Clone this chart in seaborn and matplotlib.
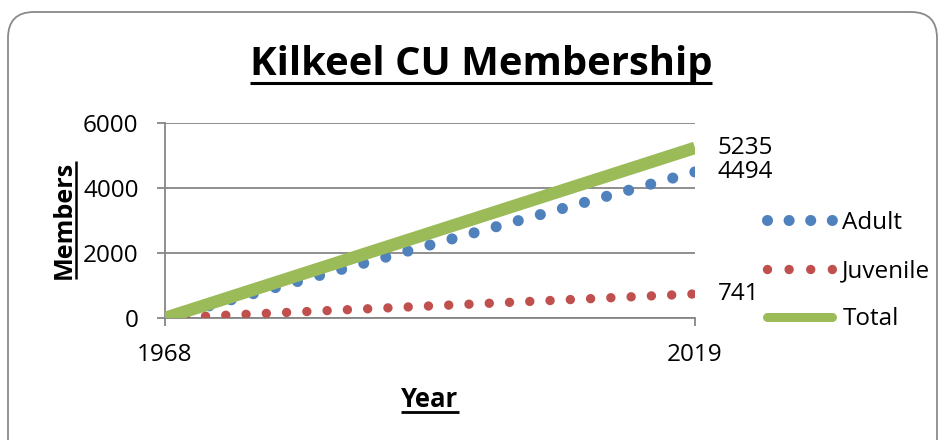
import matplotlib
matplotlib.use("Agg")
import matplotlib.pyplot as plt
import seaborn as sns
import pandas as pd
from matplotlib.patches import FancyBboxPatch
from matplotlib.lines import Line2D

# ---- data ----
years = [1968, 2019]
adult = [0, 4494]
juvenile = [0, 741]
total = [0, 5235]
series_names = ["Adult", "Juvenile", "Total"]
end_values = [5235, 4494, 741]
title_text = "Kilkeel CU Membership"
x_label = "Year"
y_label = "Members"
x_ticks = [1968, 2019]
y_ticks = [0, 2000, 4000, 6000]

# ---- style ----
sns.set_theme(style="white")
plt.rcParams["font.family"] = ["Open Sans", "DejaVu Sans"]

W, H, DPI = 941, 440, 100
fig = plt.figure(figsize=(W / DPI, H / DPI), dpi=DPI)
fig.patch.set_facecolor("white")

# rounded outer border (in inches so corners are circular)
border = FancyBboxPatch((8 / DPI, -40 / DPI), (929 - 8) / DPI + 0.08, (428 + 40) / DPI,
                        boxstyle="round,pad=0,rounding_size=0.26",
                        transform=fig.dpi_scale_trans, facecolor="none",
                        edgecolor="#8a8a8a", linewidth=1.3, zorder=-1)
fig.patches.append(border)

ax = fig.add_axes([165 / W, 1 - 318 / H, (695 - 165) / W, (318 - 123) / H])
ax.set_facecolor("none")

df = pd.DataFrame({"Year": years, "Adult": adult, "Juvenile": juvenile, "Total": total})

blue, red, green = "#4F81BD", "#C0504D", "#9BBB59"
sns.lineplot(data=df, x="Year", y="Adult", ax=ax, color=blue, linewidth=8.0,
             linestyle=(0, (0.001, 2.06)), dash_capstyle="round", label=series_names[0], zorder=3)
sns.lineplot(data=df, x="Year", y="Juvenile", ax=ax, color=red, linewidth=6.8,
             linestyle=(0, (0.001, 2.147)), dash_capstyle="round", label=series_names[1], zorder=3)
sns.lineplot(data=df, x="Year", y="Total", ax=ax, color=green, linewidth=9.0,
             solid_capstyle="butt", label=series_names[2], zorder=4)

ax.set_xlim(years[0], years[-1])
ax.set_ylim(y_ticks[0], y_ticks[-1])
ax.set_xticks(x_ticks)
ax.set_yticks(y_ticks)
ax.set_xticklabels([str(t) for t in x_ticks])
ax.set_yticklabels([str(t) for t in y_ticks])
ax.set_xlabel("")
ax.set_ylabel("")

grey = "#868686"
ax.set_axisbelow(True)
ax.yaxis.grid(True, color=grey, linewidth=1.3)
ax.xaxis.grid(False)
for s in ["top", "right"]:
    ax.spines[s].set_visible(False)
for s in ["left", "bottom"]:
    ax.spines[s].set_color(grey)
    ax.spines[s].set_linewidth(1.3)
ax.tick_params(axis="y", direction="out", length=6, width=1.3, color=grey,
               labelsize=17.5, labelcolor="black", pad=13, left=True)
ax.tick_params(axis="x", direction="out", length=6, width=1.3, color=grey,
               labelsize=17.5, labelcolor="black", pad=12, bottom=True)

# end-of-line value labels
for v in end_values:
    ax.annotate(str(v), xy=(years[-1], v), xytext=(16.5, 0), textcoords="offset points",
                ha="left", va="center", fontsize=17.5, color="black", annotation_clip=False)

leg = ax.legend(loc="upper left", bbox_to_anchor=(767 / W, 1 - 211 / H),
                bbox_transform=fig.transFigure, frameon=False, fontsize=17.5,
                handlelength=2.68, handletextpad=0.42, labelspacing=0.99,
                borderpad=0, borderaxespad=0)
for t in leg.get_texts():
    t.set_color("black")
hl = leg.get_lines()
# legend keys: evenly spaced dots and a thinner rounded bar
hl[0].set_linestyle((0, (0.001, 21.6 * 72 / DPI / 8.0)))
hl[1].set_linestyle((0, (0.001, 21.6 * 72 / DPI / 6.8)))
hl[2].set_linewidth(6.5)
hl[2].set_solid_capstyle("round")

# titles / labels
t_title = fig.text(481 / W, 1 - 75 / H, title_text, ha="center", va="baseline",
                   fontsize=28, fontweight="bold", color="black")
t_x = fig.text(430 / W, 1 - 407 / H, x_label, ha="center", va="baseline",
               fontsize=17, fontweight="bold", color="black")
t_y = fig.text(64 / W, 1 - 220 / H, y_label, ha="center", va="center", rotation=90,
               fontsize=17, fontweight="bold", color="black")

fig.canvas.draw()
r = fig.canvas.get_renderer()
def fit(t, target, use_h=False):
    bb = t.get_window_extent(r)
    cur = bb.height if use_h else bb.width
    t.set_fontsize(t.get_fontsize() * target / cur)
fit(t_title, 462)
fit(t_x, 57)
fit(t_y, 118, use_h=True)
fig.canvas.draw()

inv = fig.transFigure.inverted()
def underline_h(t, y_px, lw):
    bb = t.get_window_extent(r)
    (x0, y0), (x1, y1) = inv.transform([(bb.x0, y_px), (bb.x1, y_px)])
    fig.add_artist(Line2D([x0, x1], [y0, y1], transform=fig.transFigure, color="black", linewidth=lw,
                          solid_capstyle="butt"))
def underline_v(t, x_px, lw):
    bb = t.get_window_extent(r)
    (x0, y0), (x1, y1) = inv.transform([(x_px, bb.y0), (x_px, bb.y1)])
    fig.add_artist(Line2D([x0, x1], [y0, y1], transform=fig.transFigure, color="black", linewidth=lw,
                          solid_capstyle="butt"))
underline_h(t_title, H - 83, 2.2)
underline_h(t_x, H - 412, 2.0)
underline_v(t_y, 76, 1.8)

fig.savefig("out.png", dpi=DPI, facecolor="white")
